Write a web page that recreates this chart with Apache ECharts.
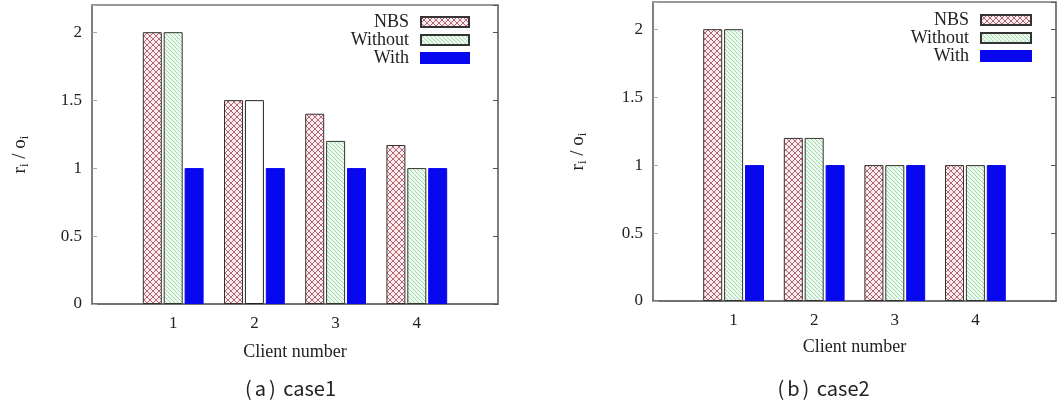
<!DOCTYPE html>
<html>
<head>
<meta charset="utf-8">
<script src="https://cdn.jsdelivr.net/npm/echarts@6/dist/echarts.min.js"></script>
<style>
  html, body { margin: 0; padding: 0; background: #fff; }
  #chart { width: 1059px; height: 402px; }
</style>
</head>
<body>
<div id="chart"></div>
<script>
// data
const clients = [1, 2, 3, 4];
const xTicks = [1, 2, 3, 4];
const yTicks = [0, 0.5, 1, 1.5, 2];

const nbsCase1 = [2, 1.5, 1.4, 1.17];
const withoutCase1 = [2, 1.5, 1.2, 1.0];
const withCase1 = [1, 1, 1, 1];

const nbsCase2 = [2, 1.2, 1, 1];
const withoutCase2 = [2, 1.2, 1, 1];
const withCase2 = [1, 1, 1, 1];

const seriesNames = ['NBS', 'Without', 'With'];
const captionTags = ['a', 'b'];
const captionCases = ['case1', 'case2'];

// hatch fills
function crossHatch() {
  const c = document.createElement('canvas');
  c.width = 6; c.height = 6;
  const g = c.getContext('2d');
  g.fillStyle = '#fcecec';
  g.fillRect(0, 0, 6, 6);
  g.strokeStyle = '#a8586a';
  g.lineWidth = 0.9;
  g.beginPath();
  g.moveTo(0, 0); g.lineTo(6, 6);
  g.moveTo(6, 0); g.lineTo(0, 6);
  g.stroke();
  return { image: c, repeat: 'repeat' };
}
function diagHatch() {
  const c = document.createElement('canvas');
  c.width = 4; c.height = 4;
  const g = c.getContext('2d');
  g.fillStyle = '#eef9ef';
  g.fillRect(0, 0, 4, 4);
  g.strokeStyle = '#96d7a0';
  g.lineWidth = 0.9;
  g.beginPath();
  g.moveTo(-1, -1); g.lineTo(5, 5);
  g.moveTo(-1, 3); g.lineTo(1, 5);
  g.moveTo(3, -1); g.lineTo(5, 1);
  g.stroke();
  return { image: c, repeat: 'repeat' };
}

const nbsFill = crossHatch();
const withoutFill = diagHatch();
const blue = '#0808ee';
const serif = 'Liberation Serif';
const sans = 'Noto Sans CJK KR';

const grids = [
  { left: 92, top: 5, width: 406, height: 299 },
  { left: 653, top: 2, width: 407, height: 299 }
];

function xAxisFor(i) {
  return {
    type: 'value', gridIndex: i, min: 0, max: 5, interval: 1,
    name: 'Client number', nameLocation: 'middle', nameGap: i === 0 ? 39 : 37,
    nameTextStyle: { fontFamily: serif, fontSize: 18, color: '#222' },
    axisLine: { lineStyle: { color: '#666', width: 1.5 } },
    axisTick: { show: false },
    splitLine: { show: false },
    axisLabel: {
      margin: 11, fontFamily: serif, fontSize: 17, color: '#222',
      formatter: v => xTicks.includes(v) ? String(v) : ''
    }
  };
}
function yAxisFor(i) {
  return {
    type: 'value', gridIndex: i, min: 0, max: 2.2, interval: 0.5,
    name: '{t|r}{s|i}{t| / o}{s|i}', nameLocation: 'middle', nameGap: i === 0 ? 61 : 64, nameRotate: 90,
    nameTextStyle: {
      fontFamily: serif, color: '#222',
      rich: {
        t: { fontFamily: serif, fontSize: 19, color: '#222' },
        s: { fontFamily: serif, fontSize: 13, color: '#222', padding: [8, 0, 0, 0] }
      }
    },
    axisLine: { show: true, lineStyle: { color: '#777', width: 1.5 } },
    axisTick: { inside: true, length: 5, lineStyle: { color: '#aaa' } },
    splitLine: { show: false },
    axisLabel: {
      margin: 10, fontFamily: serif, fontSize: 17, color: '#222',
      formatter: v => yTicks.includes(v) ? String(v) : ''
    }
  };
}
function rightAxisFor(i) {
  return {
    type: 'value', gridIndex: i, position: 'right', min: 0, max: 2.2, interval: 0.5,
    axisLine: { show: true, lineStyle: { color: '#777', width: 1.5 } },
    axisTick: { inside: true, length: 5, lineStyle: { color: '#555' } },
    axisLabel: { show: false },
    splitLine: { show: false }
  };
}

function barSeries(name, values, fill, axisIdx, overrides) {
  return {
    name, type: 'bar',
    xAxisIndex: axisIdx, yAxisIndex: axisIdx * 2,
    barWidth: 19, barGap: '10%',
    itemStyle: { color: fill, borderColor: name === 'With' ? blue : '#333', borderWidth: 1 },
    data: clients.map((c, k) => {
      const d = { value: [c, values[k]] };
      if (overrides && overrides[k]) d.itemStyle = overrides[k];
      return d;
    })
  };
}

function caption(k, x) {
  return {
    text: '{p|(}' + captionTags[k] + '{p|)} ' + captionCases[k],
    left: x, top: 373, textAlign: 'center',
    textStyle: {
      fontFamily: sans, fontSize: 20, fontWeight: 'normal', color: '#222',
      rich: { p: { fontFamily: sans, fontSize: 20, color: '#222', padding: [0, 3, 0, 3] } }
    }
  };
}

const chart = echarts.init(document.getElementById('chart'), null, { renderer: 'canvas' });
chart.setOption({
  animation: false,
  backgroundColor: '#fff',
  title: [caption(0, 284), caption(1, 817)],
  legend: [
    { data: seriesNames, orient: 'vertical', align: 'right', right: 584, top: 8,
      icon: 'rect', itemWidth: 48, itemHeight: 10, itemGap: 0,
      textStyle: { fontFamily: serif, fontSize: 18, color: '#222', padding: [0, 7, 0, 0] } },
    { data: seriesNames, orient: 'vertical', align: 'right', right: 22, top: 6,
      icon: 'rect', itemWidth: 50, itemHeight: 10, itemGap: 0,
      textStyle: { fontFamily: serif, fontSize: 18, color: '#222', padding: [0, 7, 0, 0] } }
  ],
  grid: grids.map(g => Object.assign({ show: true, borderColor: '#777', borderWidth: 1.5 }, g)),
  xAxis: [xAxisFor(0), xAxisFor(1)],
  yAxis: [yAxisFor(0), rightAxisFor(0), yAxisFor(1), rightAxisFor(1)],
  series: [
    barSeries('NBS', nbsCase1, nbsFill, 0),
    barSeries('Without', withoutCase1, withoutFill, 0, { 1: { color: '#fff', borderColor: '#222' } }),
    barSeries('With', withCase1, blue, 0),
    barSeries('NBS', nbsCase2, nbsFill, 1),
    barSeries('Without', withoutCase2, withoutFill, 1),
    barSeries('With', withCase2, blue, 1)
  ]
});
</script>
</body>
</html>
